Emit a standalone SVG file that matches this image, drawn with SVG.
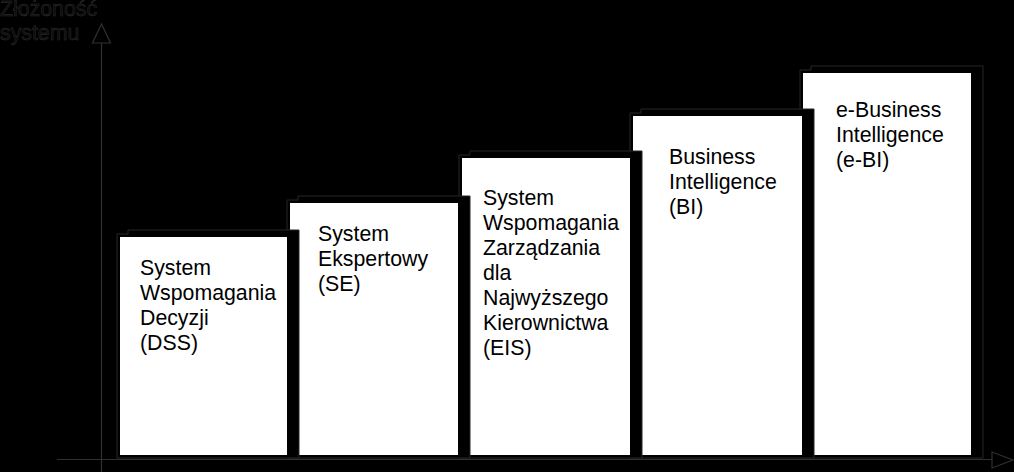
<svg xmlns="http://www.w3.org/2000/svg" width="1014" height="472" viewBox="0 0 1014 472">
<style>
.frame{fill:#000;stroke:#262626;stroke-width:1}
.face{fill:#fff}
.lbl{font-family:"Liberation Sans",Arial,sans-serif;font-size:21.3px;fill:#000}
.axl{font-family:"Liberation Sans",Arial,sans-serif;font-size:21.3px;fill:#0a0a0a;stroke:#333;stroke-width:0.45}
.axis{stroke:#303030;stroke-width:1.2;fill:none}
</style>
<rect x="0" y="0" width="1014" height="472" fill="#000"/>
<g id="axes">
<line class="axis" x1="101.5" y1="43" x2="101.5" y2="472"/>
<polygon class="axis" points="101.5,24 92.5,43 110.5,43"/>
<line class="axis" x1="57" y1="459.5" x2="992" y2="459.5"/>
<polygon class="axis" points="1013,460 992,452 992,468"/>
<text class="axl" x="0" y="16">Złożoność</text>
<text class="axl" x="0" y="40">systemu</text>
</g>
<g id="node-ebi">
<polygon class="frame" points="800,458 800,70 811,70 811,66 983,66 983,458"/>
<rect class="face" x="803" y="73" width="168" height="382"/>
<text class="lbl" x="836" y="117">e-Business</text>
<text class="lbl" x="836" y="142">Intelligence</text>
<text class="lbl" x="836" y="167">(e-BI)</text>
</g>
<g id="node-bi">
<polygon class="frame" points="630,458 630,113 641,113 641,109 814,109 814,458"/>
<rect class="face" x="633" y="116" width="169" height="339"/>
<text class="lbl" x="669" y="164">Business</text>
<text class="lbl" x="669" y="189">Intelligence</text>
<text class="lbl" x="669" y="214">(BI)</text>
</g>
<g id="node-eis">
<polygon class="frame" points="459,458 459,155 470,155 470,151 642,151 642,458"/>
<rect class="face" x="462" y="158" width="168" height="297"/>
<text class="lbl" x="483" y="205">System</text>
<text class="lbl" x="483" y="230">Wspomagania</text>
<text class="lbl" x="483" y="255">Zarządzania</text>
<text class="lbl" x="483" y="280">dla</text>
<text class="lbl" x="483" y="305">Najwyższego</text>
<text class="lbl" x="483" y="330">Kierownictwa</text>
<text class="lbl" x="483" y="355">(EIS)</text>
</g>
<g id="node-se">
<polygon class="frame" points="287,458 287,200 298,200 298,196 470,196 470,458"/>
<rect class="face" x="290" y="203" width="168" height="252"/>
<text class="lbl" x="318" y="241">System</text>
<text class="lbl" x="318" y="266">Ekspertowy</text>
<text class="lbl" x="318" y="291">(SE)</text>
</g>
<g id="node-dss">
<polygon class="frame" points="117,458 117,234 128,234 128,230 299,230 299,458"/>
<rect class="face" x="120" y="237" width="167" height="218"/>
<text class="lbl" x="140" y="275">System</text>
<text class="lbl" x="140" y="300">Wspomagania</text>
<text class="lbl" x="140" y="325">Decyzji</text>
<text class="lbl" x="140" y="350">(DSS)</text>
</g>
</svg>
